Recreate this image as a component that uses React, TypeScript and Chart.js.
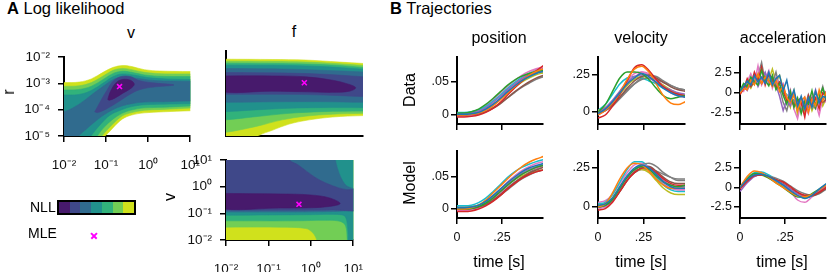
import React, { useEffect, useRef } from 'react';
import { Chart, registerables } from 'chart.js';
Chart.register(...registerables);

const FONT = '"Liberation Sans", Arial, Helvetica, sans-serif';
const LEVEL_COLORS = ['#471a6c', '#3f4889', '#306b8e', '#21918c', '#31b27b', '#72ce55', '#d0e11c'];
const MLE_COLOR = '#ff00ff';
const PALETTE = ['#1f77b4', '#ff7f0e', '#2ca02c', '#d62728', '#9467bd', '#8c564b', '#e377c2', '#7f7f7f', '#bcbd22', '#17becf', '#7f7f7f', '#e377c2'];

// ---------- Panel A: contour polygons (log10 x, log10 y), level 0 = lowest NLL ----------
const X_EXPS = [-2, -1, 0, 1];
const R_EXPS = [-5, -4, -3, -2];
const V_EXPS = [-2, -1, 0, 1];

const VR_L6 = [[-2.2,-5.3],[-2.2,-2.97],[-2.0,-2.97],[-1.64,-2.95],[-1.35,-2.83],[-1.05,-2.56],[-0.83,-2.39],[-0.61,-2.32],[-0.39,-2.36],[-0.09,-2.48],[0.28,-2.53],[1.0,-2.55],[1.2,-2.55],[1.2,-4.04],[1.0,-4.04],[0.36,-4.08],[-0.09,-4.12],[-0.39,-4.2],[-0.61,-4.35],[-0.79,-4.61],[-0.94,-4.87],[-1.01,-4.98],[-1.09,-5.19],[-1.2,-5.3],[-2.2,-5.3]];
const VR_L5 = [[-2.2,-5.3],[-2.2,-3.11],[-2.0,-3.11],[-1.64,-3.09],[-1.35,-2.97],[-1.05,-2.7],[-0.83,-2.5],[-0.61,-2.43],[-0.39,-2.48],[-0.09,-2.58],[0.28,-2.63],[1.0,-2.64],[1.2,-2.64],[1.2,-3.94],[1.0,-3.94],[0.36,-3.99],[-0.09,-4.02],[-0.39,-4.11],[-0.61,-4.23],[-0.79,-4.47],[-0.98,-4.78],[-1.09,-4.98],[-1.16,-5.19],[-1.3,-5.3],[-2.2,-5.3]];
const VR_L4 = [[-2.2,-5.3],[-2.2,-3.25],[-2.0,-3.25],[-1.64,-3.23],[-1.35,-3.11],[-1.05,-2.83],[-0.83,-2.62],[-0.61,-2.54],[-0.39,-2.58],[-0.09,-2.68],[0.28,-2.73],[1.0,-2.74],[1.2,-2.74],[1.2,-3.86],[1.0,-3.86],[0.36,-3.91],[-0.09,-3.93],[-0.39,-4.01],[-0.61,-4.13],[-0.83,-4.35],[-1.05,-4.67],[-1.2,-4.98],[-1.27,-5.19],[-1.4,-5.3],[-2.2,-5.3]];
const VR_L3 = [[-2.2,-5.3],[-2.2,-3.44],[-2.0,-3.44],[-1.64,-3.42],[-1.35,-3.27],[-1.05,-2.97],[-0.83,-2.74],[-0.61,-2.64],[-0.31,-2.69],[-0.01,-2.78],[0.43,-2.83],[1.0,-2.85],[1.2,-2.85],[1.2,-3.77],[1.0,-3.77],[0.36,-3.79],[-0.09,-3.81],[-0.39,-3.88],[-0.61,-3.99],[-0.9,-4.2],[-1.13,-4.55],[-1.35,-4.98],[-1.42,-5.19],[-1.55,-5.3],[-2.2,-5.3]];
const VR_L2 = [[-2.2,-5.3],[-2.2,-4.08],[-2.0,-4.08],[-1.64,-3.79],[-1.35,-3.44],[-1.05,-3.09],[-0.83,-2.85],[-0.61,-2.76],[-0.24,-2.81],[0.13,-2.89],[1.0,-2.92],[1.2,-2.92],[1.2,-3.7],[1.0,-3.67],[0.36,-3.7],[-0.09,-3.71],[-0.39,-3.77],[-0.61,-3.85],[-0.9,-4.05],[-1.2,-4.37],[-1.5,-4.78],[-1.64,-4.98],[-1.72,-5.19],[-1.85,-5.3],[-2.2,-5.3]];
const VR_L1 = [[-1.27,-4.08],[-1.13,-3.67],[-0.98,-3.26],[-0.83,-2.91],[-0.64,-2.74],[-0.42,-2.74],[-0.24,-2.88],[0.06,-2.97],[0.61,-3.06],[0.06,-3.15],[-0.24,-3.26],[-0.46,-3.44],[-0.68,-3.67],[-0.98,-3.96],[-1.2,-4.11],[-1.27,-4.08]];
const VR_L0 = [[-0.96,-3.61],[-0.9,-3.32],[-0.76,-2.97],[-0.61,-2.85],[-0.42,-2.88],[-0.33,-3.03],[-0.42,-3.2],[-0.61,-3.38],[-0.79,-3.56],[-0.92,-3.64],[-0.96,-3.61]];
const VR_MLE = [-0.68, -3.12];

const FR_L6 = [[-2.2,-5.3],[-2.2,-2.29],[-2.0,-2.29],[-0.99,-2.3],[-0.26,-2.32],[0.48,-2.39],[1.0,-2.44],[1.2,-2.46],[1.2,-4.29],[1.0,-4.28],[0.33,-4.33],[-0.18,-4.43],[-0.62,-4.58],[-0.99,-4.8],[-1.28,-4.98],[-1.45,-5.19],[-1.6,-5.3],[-2.2,-5.3]];
const FR_L5 = [[-2.2,-4.87],[-2.2,-2.36],[-2.0,-2.36],[-0.99,-2.37],[-0.26,-2.39],[0.48,-2.45],[1.0,-2.51],[1.2,-2.53],[1.2,-4.2],[1.0,-4.2],[0.33,-4.23],[-0.26,-4.3],[-0.77,-4.43],[-1.36,-4.67],[-2.0,-4.87],[-2.2,-4.87]];
const FR_L4 = [[-2.2,-4.43],[-2.2,-2.43],[-2.0,-2.43],[-0.99,-2.44],[-0.26,-2.46],[0.48,-2.51],[1.0,-2.58],[1.2,-2.6],[1.2,-4.12],[1.0,-4.12],[0.11,-4.14],[-0.62,-4.2],[-1.36,-4.32],[-2.0,-4.43],[-2.2,-4.43]];
const FR_L3 = [[-2.2,-4.14],[-2.2,-2.5],[-2.0,-2.5],[-0.62,-2.51],[0.11,-2.55],[1.0,-2.64],[1.2,-2.66],[1.2,-4.0],[1.0,-4.0],[0.11,-4.0],[-0.62,-4.02],[-1.36,-4.08],[-2.0,-4.14],[-2.2,-4.14]];
const FR_L2 = [[-2.2,-3.81],[-2.2,-2.62],[-2.0,-2.62],[-0.62,-2.64],[0.11,-2.68],[1.0,-2.74],[1.2,-2.76],[1.2,-3.81],[1.0,-3.81],[0.11,-3.79],[-0.62,-3.79],[-2.0,-3.81],[-2.2,-3.81]];
const FR_L1 = [[-2.2,-3.53],[-2.2,-2.76],[-2.0,-2.76],[-0.62,-2.78],[0.26,-2.83],[1.0,-2.91],[1.2,-2.93],[1.2,-3.61],[1.0,-3.61],[0.26,-3.56],[-0.62,-3.53],[-2.0,-3.53],[-2.2,-3.53]];
const FR_L0 = [[-2.2,-2.88],[-0.99,-2.88],[-0.26,-2.91],[0.33,-3.03],[0.7,-3.18],[0.84,-3.3],[0.7,-3.42],[0.33,-3.46],[-0.26,-3.44],[-0.99,-3.42],[-2.2,-3.4],[-2.2,-2.88]];
const FR_MLE = [-0.285, -3.12];

const FV_L6 = [[-2.3,-2.3],[-2.3,1.3],[1.3,1.3],[1.3,-2.3],[-2.3,-2.3]];
const FV_L5 = [[-2.2,-1.52],[-2.2,1.3],[1.2,1.3],[1.2,-2.3],[0.16,-2.3],[0.14,-2.0],[0.05,-1.74],[-0.11,-1.57],[-0.74,-1.52],[-2.0,-1.52],[-2.2,-1.52]];
const FV_L4 = [[-2.2,-1.28],[-2.2,1.3],[1.2,1.3],[1.2,-2.3],[0.88,-2.3],[0.86,-2.0],[0.82,-1.47],[0.69,-1.3],[0.36,-1.26],[-0.37,-1.28],[-2.0,-1.28],[-2.2,-1.28]];
const FV_L3 = [[-2.2,-1.07],[-2.2,1.3],[1.2,1.3],[1.2,-2.3],[0.91,-2.3],[0.88,-1.77],[0.85,-1.3],[0.79,-1.09],[0.58,-1.04],[0.0,-1.05],[-2.0,-1.07],[-2.2,-1.07]];
const FV_L2 = [[-2.2,-0.95],[-2.2,1.3],[0.57,1.3],[0.58,1.0],[0.64,0.63],[0.73,0.28],[0.84,0.04],[1.02,-0.07],[1.2,-0.11],[1.2,-0.89],[0.88,-0.9],[0.51,-0.93],[-0.37,-0.95],[-2.0,-0.95],[-2.2,-0.95]];
const FV_L1 = [[-2.2,-0.88],[-2.2,1.3],[-0.53,1.3],[-0.5,1.0],[-0.3,0.82],[-0.04,0.51],[0.22,0.24],[0.51,0.04],[0.8,-0.1],[1.2,-0.16],[1.2,-0.83],[0.51,-0.87],[-0.37,-0.88],[-2.0,-0.88],[-2.2,-0.88]];
const FV_L0 = [[-2.2,-0.25],[-0.74,-0.27],[0.0,-0.31],[0.44,-0.42],[0.69,-0.63],[0.44,-0.74],[0.0,-0.79],[-0.74,-0.8],[-2.2,-0.79],[-2.2,-0.25]];
const FV_MLE = [-0.28, -0.66];

// ---------- Panel B: trajectories ----------
const T13 = [0, 0.04, 0.08, 0.12, 0.16, 0.2, 0.24, 0.28, 0.32, 0.36, 0.4, 0.44, 0.48];
const T25 = [0, 0.02, 0.04, 0.06, 0.08, 0.1, 0.12, 0.14, 0.16, 0.18, 0.2, 0.22, 0.24, 0.26, 0.28, 0.3, 0.32, 0.34, 0.36, 0.38, 0.4, 0.42, 0.44, 0.46, 0.48];
const T_TICKS = [0, 0.25];
const T_LABELS = ['0', '.25'];
const T_RANGE = [0, 0.478];

const POS_TICKS = [0, 0.05];
const POS_LABELS = ['0', '.05'];
const VEL_TICKS = [0, 0.25];
const VEL_LABELS = ['0', '.25'];
const ACC_TICKS = [-2.5, 0, 2.5];
const ACC_LABELS = ['-2.5', '0', '2.5'];

const POS_DATA_RANGE = [-0.0136, 0.0879];
const POS_MODEL_RANGE = [-0.014, 0.0906];
const VEL_DATA_RANGE = [-0.081, 0.372];
const VEL_MODEL_RANGE = [-0.0705, 0.359];
const ACC_DATA_RANGE = [-3.875, 4.5];
const ACC_MODEL_RANGE = [-3.91, 4.68];

const POS_DATA = [
  [0.001,0.001,0.002,0.004,0.009,0.016,0.025,0.035,0.044,0.052,0.058,0.063,0.066],
  [0.0,0.0,0.001,0.003,0.007,0.014,0.023,0.033,0.043,0.052,0.06,0.066,0.07],
  [0.003,0.003,0.005,0.009,0.016,0.025,0.035,0.045,0.053,0.059,0.063,0.066,0.068],
  [-0.003,-0.003,-0.002,0.0,0.004,0.01,0.019,0.03,0.041,0.051,0.06,0.067,0.075],
  [0.002,0.002,0.003,0.006,0.011,0.019,0.028,0.038,0.047,0.055,0.061,0.065,0.068],
  [0.0,0.0,0.001,0.002,0.005,0.01,0.017,0.026,0.035,0.043,0.05,0.056,0.06],
  [-0.002,-0.002,-0.001,0.002,0.007,0.015,0.025,0.036,0.046,0.055,0.062,0.068,0.072],
  [0.001,0.001,0.002,0.003,0.006,0.011,0.018,0.026,0.034,0.042,0.048,0.054,0.058],
  [0.002,0.002,0.003,0.005,0.009,0.016,0.024,0.033,0.042,0.05,0.056,0.061,0.064],
  [0.004,0.004,0.005,0.008,0.013,0.021,0.03,0.04,0.049,0.057,0.063,0.068,0.071],
  [0.0,0.0,0.001,0.003,0.008,0.015,0.025,0.036,0.046,0.054,0.06,0.064,0.066],
  [0.001,0.001,0.003,0.007,0.014,0.023,0.033,0.043,0.052,0.06,0.066,0.07,0.073],
];
const POS_MODEL = [
  [0.002,0.002,0.003,0.006,0.012,0.021,0.031,0.041,0.05,0.058,0.064,0.068,0.071],
  [0.0,0.0,0.002,0.006,0.014,0.025,0.036,0.047,0.057,0.066,0.073,0.078,0.082],
  [0.0,0.0,0.001,0.004,0.009,0.017,0.027,0.037,0.046,0.054,0.06,0.065,0.068],
  [-0.004,-0.004,-0.003,0.0,0.005,0.012,0.021,0.031,0.04,0.048,0.054,0.058,0.061],
  [0.001,0.001,0.002,0.005,0.011,0.019,0.029,0.039,0.048,0.056,0.062,0.066,0.069],
  [0.0,0.0,0.001,0.003,0.007,0.014,0.022,0.032,0.041,0.049,0.056,0.061,0.065],
  [-0.002,-0.002,-0.001,0.002,0.007,0.015,0.025,0.036,0.046,0.054,0.06,0.064,0.067],
  [0.0,0.0,0.001,0.003,0.007,0.013,0.021,0.03,0.039,0.047,0.053,0.058,0.061],
  [0.002,0.002,0.003,0.006,0.012,0.02,0.029,0.038,0.046,0.052,0.056,0.059,0.061],
  [0.005,0.005,0.006,0.01,0.017,0.027,0.038,0.049,0.058,0.065,0.07,0.074,0.077],
  [0.003,0.003,0.004,0.006,0.01,0.016,0.024,0.033,0.042,0.05,0.057,0.063,0.067],
  [0.001,0.001,0.002,0.005,0.011,0.02,0.031,0.042,0.052,0.06,0.066,0.071,0.074],
];
const VEL_DATA = [
  [-0.01,0.02,0.07,0.13,0.19,0.23,0.26,0.24,0.2,0.16,0.13,0.11,0.1],
  [-0.02,0.01,0.06,0.13,0.22,0.29,0.31,0.27,0.19,0.11,0.06,0.05,0.07],
  [0.0,0.05,0.14,0.23,0.27,0.27,0.26,0.22,0.16,0.11,0.09,0.1,0.11],
  [-0.04,-0.02,0.04,0.12,0.21,0.3,0.32,0.28,0.22,0.17,0.14,0.12,0.11],
  [0.0,0.03,0.08,0.14,0.2,0.24,0.25,0.23,0.2,0.17,0.15,0.13,0.12],
  [-0.01,0.01,0.05,0.1,0.16,0.21,0.24,0.25,0.23,0.2,0.17,0.15,0.14],
  [-0.02,0.01,0.07,0.14,0.21,0.26,0.27,0.25,0.21,0.17,0.13,0.11,0.1],
  [0.0,0.02,0.05,0.1,0.15,0.19,0.22,0.23,0.22,0.2,0.18,0.16,0.15],
  [0.01,0.03,0.07,0.12,0.18,0.22,0.24,0.23,0.21,0.18,0.15,0.12,0.11],
  [0.01,0.05,0.12,0.19,0.23,0.24,0.23,0.21,0.19,0.16,0.14,0.12,0.11],
  [-0.01,0.01,0.04,0.09,0.14,0.19,0.23,0.25,0.24,0.21,0.18,0.16,0.15],
  [0.0,0.02,0.06,0.12,0.18,0.23,0.27,0.26,0.22,0.18,0.14,0.12,0.1],
];
const VEL_MODEL = [
  [0.01,0.02,0.06,0.13,0.2,0.25,0.27,0.25,0.21,0.16,0.13,0.12,0.12],
  [0.0,0.02,0.09,0.18,0.25,0.28,0.27,0.23,0.18,0.14,0.12,0.12,0.12],
  [0.0,0.01,0.05,0.12,0.19,0.24,0.26,0.24,0.2,0.16,0.14,0.13,0.14],
  [-0.02,-0.01,0.03,0.1,0.17,0.22,0.25,0.25,0.22,0.18,0.15,0.14,0.14],
  [0.0,0.01,0.05,0.12,0.19,0.24,0.26,0.25,0.21,0.17,0.14,0.13,0.13],
  [0.0,0.01,0.04,0.1,0.17,0.22,0.25,0.26,0.23,0.19,0.16,0.15,0.15],
  [-0.01,0.0,0.04,0.11,0.18,0.24,0.27,0.26,0.22,0.17,0.13,0.11,0.11],
  [0.0,0.01,0.04,0.1,0.17,0.23,0.27,0.28,0.26,0.22,0.19,0.17,0.17],
  [0.01,0.02,0.06,0.13,0.19,0.23,0.24,0.22,0.17,0.12,0.09,0.08,0.08],
  [0.02,0.03,0.08,0.16,0.24,0.29,0.29,0.25,0.19,0.14,0.11,0.1,0.1],
  [0.01,0.02,0.05,0.11,0.18,0.22,0.24,0.24,0.23,0.21,0.19,0.18,0.18],
  [0.03,0.04,0.08,0.15,0.22,0.27,0.28,0.25,0.2,0.15,0.12,0.11,0.11],
];
const ACC_DATA = [
  [0.2,0.8,1.5,1.0,2.2,1.4,2.0,1.2,2.6,1.0,1.8,2.2,0.3,1.6,-0.8,0.4,-1.6,-0.4,-2.0,-0.6,-1.8,0.2,-1.2,-0.4,-0.6],
  [0.0,0.6,0.4,1.6,1.0,2.4,1.2,2.0,1.5,0.8,1.6,0.2,0.9,-0.6,-1.2,-0.2,-2.2,-1.0,-0.5,-2.4,-0.8,-1.6,0.4,-1.0,0.2],
  [0.3,1.2,0.8,2.0,1.4,1.0,2.8,1.6,0.9,2.2,0.4,1.2,-0.3,-1.4,0.2,-1.8,-0.6,-2.6,-1.0,-1.4,0.3,-1.8,-0.6,0.6,-0.8],
  [-0.2,0.5,1.8,0.9,2.6,1.5,3.2,1.0,2.4,1.8,0.6,1.4,0.8,-1.0,-0.4,-1.6,-0.8,-1.2,-3.0,-0.4,-1.6,-0.6,-2.0,0.0,-0.4],
  [0.1,0.9,0.3,1.4,2.0,0.8,1.8,2.6,1.2,2.0,1.0,-0.4,-2.2,-0.8,-1.6,0.0,-1.4,-2.2,-0.6,-1.8,-1.0,0.4,-1.4,-0.2,0.2],
  [0.0,0.6,1.0,0.8,1.4,1.8,1.2,2.0,1.4,1.6,1.0,0.6,0.0,-0.8,-0.4,-1.6,-1.0,-0.6,-1.8,-1.2,-0.6,-1.4,-0.8,-1.2,-0.8],
  [0.4,0.2,1.4,2.4,1.2,3.4,1.0,1.8,2.8,0.6,1.9,0.8,1.2,-0.8,0.4,-2.0,-3.2,-1.0,-1.6,-2.6,-0.4,-1.2,-2.8,-0.6,-1.2],
  [0.0,1.0,0.6,1.8,1.4,2.2,3.8,1.4,2.2,1.2,2.6,0.6,-1.2,-2.2,-0.4,-1.0,-2.0,-0.8,-1.8,-0.2,-1.4,-2.0,-0.6,0.8,-1.0],
  [0.2,0.7,1.2,0.6,1.6,2.0,1.2,2.4,1.6,3.0,1.4,2.2,0.6,-0.6,-1.8,0.2,-2.8,-1.2,-2.4,-0.8,-2.2,-1.0,0.0,-1.6,-0.6],
  [0.4,1.0,1.3,1.6,1.8,1.5,1.9,1.6,1.7,1.3,1.4,0.8,0.2,-0.2,-0.7,-0.9,-1.1,-1.4,-1.3,-1.5,-1.2,-1.0,-1.1,-0.7,-0.5],
];
const ACC_MODEL = [
  [0.0,1.0,1.6,1.7,1.4,0.9,0.3,-0.4,-1.0,-1.4,-1.0,-0.2,0.5],
  [0.0,1.4,2.1,1.9,1.3,0.6,0.0,-0.6,-1.1,-1.2,-0.9,-0.3,0.3],
  [0.1,1.1,1.8,1.7,1.2,0.6,0.0,-0.7,-1.2,-1.2,-0.8,-0.2,0.4],
  [-0.2,0.8,1.5,1.6,1.3,1.0,0.7,0.1,-0.6,-1.0,-1.0,-0.6,0.0],
  [-0.5,0.6,1.4,1.6,1.3,0.9,0.4,-0.2,-0.8,-1.1,-1.0,-0.5,0.2],
  [-0.1,0.9,1.6,1.7,1.4,1.0,0.5,-0.1,-0.7,-1.1,-1.1,-0.7,-0.1],
  [0.0,1.0,1.7,1.7,1.3,0.8,0.3,-0.5,-1.6,-1.9,-1.2,-0.4,0.2],
  [0.0,0.9,1.5,1.6,1.4,1.2,0.8,0.2,-0.4,-0.8,-1.0,-0.8,-0.2],
  [0.0,1.1,1.7,1.6,1.2,0.7,0.1,-0.6,-1.1,-1.3,-1.1,-0.5,0.0],
  [0.0,1.2,1.9,2.0,1.6,1.0,0.2,-0.6,-1.2,-1.3,-1.1,-0.6,0.1],
];

// ---------- helpers ----------
const SUP: Record<string, string> = { '-': '\u207B', '0': '\u2070', '1': '\u00B9', '2': '\u00B2', '3': '\u00B3', '4': '\u2074', '5': '\u2075' };
const pow10Label = (e: number) => '10' + String(e).split('').map((c) => SUP[c] || c).join('');

type Box = { left: number; top: number; w: number; h: number; ml: number; mt: number; mr: number; mb: number };

const gridOpts = (drawTicks: boolean) => ({
  display: true, drawOnChartArea: false, drawTicks, tickLength: 6, color: '#000', lineWidth: 1.5,
});
const borderOpts = { display: true, color: '#000', width: 2 };

function logAxis(exps: number[], showLabels: boolean, showTicks: boolean, axis: 'x' | 'y', size: number, pad: number) {
  return {
    type: 'logarithmic',
    min: Math.pow(10, exps[0]),
    max: Math.pow(10, exps[exps.length - 1]),
    afterBuildTicks: (s: any) => { s.ticks = exps.map((e) => ({ value: Math.pow(10, e) })); },
    afterFit: (s: any) => { if (axis === 'x') s.height = size; else s.width = size; },
    ticks: {
      display: showLabels, autoSkip: false, maxRotation: 0, padding: pad, color: '#111',
      font: { family: FONT, size: 13.5 },
      callback: (_v: any, i: number) => pow10Label(exps[i]),
    },
    grid: gridOpts(showTicks),
    border: borderOpts,
  };
}

function linAxis(range: number[], ticks: number[], labels: string[], showLabels: boolean, axis: 'x' | 'y', size: number, pad: number) {
  return {
    type: 'linear',
    min: range[0],
    max: range[1],
    afterBuildTicks: (s: any) => { s.ticks = ticks.map((v) => ({ value: v })); },
    afterFit: (s: any) => { if (axis === 'x') s.height = size; else s.width = size; },
    ticks: {
      display: true, autoSkip: false, maxRotation: 0, padding: pad, color: '#111',
      font: { family: FONT, size: 12.5 },
      callback: (_v: any, i: number) => (showLabels ? labels[i] : ''),
    },
    grid: gridOpts(true),
    border: borderOpts,
  };
}

function baseOptions(box: Box, scales: any) {
  return {
    animation: false,
    responsive: false,
    maintainAspectRatio: false,
    devicePixelRatio: 1,
    events: [],
    layout: { padding: { left: 0, top: box.mt, right: box.mr, bottom: 0 } },
    plugins: { legend: { display: false }, tooltip: { enabled: false }, title: { display: false } },
    elements: { line: { capBezierPoints: false }, point: { radius: 0 } },
    scales,
  };
}

function contourConfig(box: Box, levels: number[][][], mle: number[], xExps: number[], yExps: number[], showLabels: boolean) {
  const datasets: any[] = levels.map((poly, k) => ({
    data: poly.map(([a, b]) => ({ x: Math.pow(10, a), y: Math.pow(10, b) })),
    showLine: true,
    fill: 'shape',
    backgroundColor: LEVEL_COLORS[k],
    borderColor: LEVEL_COLORS[k],
    borderWidth: 0.6,
    pointRadius: 0,
    tension: poly.length <= 5 ? 0 : 0.35,
    order: k + 1,
    clip: 0,
  }));
  datasets.push({
    data: [{ x: Math.pow(10, mle[0]), y: Math.pow(10, mle[1]) }],
    showLine: false,
    pointStyle: 'crossRot',
    pointRadius: 3.5,
    borderColor: MLE_COLOR,
    backgroundColor: MLE_COLOR,
    borderWidth: 1.6,
    order: 0,
    clip: false,
  });
  return {
    type: 'line',
    data: { datasets },
    options: baseOptions(box, {
      x: logAxis(xExps, showLabels, showLabels, 'x', box.mb, 15),
      y: logAxis(yExps, showLabels, showLabels, 'y', box.ml, 8),
    }),
  };
}

function trajConfig(box: Box, series: number[][], t: number[], yRange: number[], yTicks: number[], yLabels: string[], showX: boolean, smooth: boolean) {
  const datasets = series.map((s, i) => ({
    data: s.map((v, j) => ({ x: t[j], y: v })),
    borderColor: PALETTE[i % PALETTE.length],
    borderWidth: 1.5,
    pointRadius: 0,
    fill: false,
    tension: smooth ? 0.4 : 0,
    cubicInterpolationMode: smooth ? 'monotone' : 'default',
    clip: 0,
  }));
  return {
    type: 'line',
    data: { datasets },
    options: baseOptions(box, {
      x: linAxis(T_RANGE, T_TICKS, T_LABELS, showX, 'x', box.mb, 6),
      y: linAxis(yRange, yTicks, yLabels, true, 'y', box.ml, 2),
    }),
  };
}

function ChartCanvas({ box, make }: { box: Box; make: () => any }) {
  const ref = useRef<HTMLCanvasElement | null>(null);
  useEffect(() => {
    if (!ref.current) return;
    const chart = new Chart(ref.current, make());
    return () => chart.destroy();
  }, []);
  const W = box.w + box.ml + box.mr;
  const H = box.h + box.mt + box.mb;
  return (
    <canvas
      ref={ref}
      width={W}
      height={H}
      style={{ position: 'absolute', left: box.left - box.ml, top: box.top - box.mt, width: W, height: H }}
    />
  );
}

function Txt({ x, y, children, size = 16, rot = 0, anchor = 'center' }: { x: number; y: number; children: any; size?: number; rot?: number; anchor?: string }) {
  const tx = anchor === 'left' ? '0' : '-50%';
  return (
    <div
      style={{
        position: 'absolute', left: x, top: y, transform: `translate(${tx},-50%) rotate(${rot}deg)`,
        fontFamily: FONT, fontSize: size, lineHeight: 1, whiteSpace: 'nowrap', color: '#000',
      }}
    >
      {children}
    </div>
  );
}

const BOX_VR: Box = { left: 64, top: 51, w: 135, h: 85, ml: 60, mt: 10, mr: 16, mb: 36 };
const BOX_FR: Box = { left: 226, top: 51, w: 137, h: 85, ml: 20, mt: 10, mr: 16, mb: 10 };
const BOX_FV: Box = { left: 226, top: 154, w: 136, h: 86, ml: 60, mt: 10, mr: 16, mb: 36 };

const COL_X = [457, 598, 740];
const COL_W = [86, 87, 86];
const ROW_TOP = [57, 151];
const ROW_H = 67;

const bBox = (col: number, row: number): Box => ({
  left: COL_X[col], top: ROW_TOP[row], w: COL_W[col], h: ROW_H, ml: 45, mt: 10, mr: 10, mb: row === 0 ? 10 : 34,
});

export default function App() {
  return (
    <div style={{ position: 'absolute', left: 0, top: 0, width: 830, height: 272, background: '#fff', overflow: 'hidden' }}>
      <ChartCanvas box={BOX_VR} make={() => contourConfig(BOX_VR, [VR_L0, VR_L1, VR_L2, VR_L3, VR_L4, VR_L5, VR_L6], VR_MLE, X_EXPS, R_EXPS, true)} />
      <ChartCanvas box={BOX_FR} make={() => contourConfig(BOX_FR, [FR_L0, FR_L1, FR_L2, FR_L3, FR_L4, FR_L5, FR_L6], FR_MLE, X_EXPS, R_EXPS, false)} />
      <ChartCanvas box={BOX_FV} make={() => contourConfig(BOX_FV, [FV_L0, FV_L1, FV_L2, FV_L3, FV_L4, FV_L5, FV_L6], FV_MLE, X_EXPS, V_EXPS, true)} />

      <ChartCanvas box={bBox(0, 0)} make={() => trajConfig(bBox(0, 0), POS_DATA, T13, POS_DATA_RANGE, POS_TICKS, POS_LABELS, false, true)} />
      <ChartCanvas box={bBox(1, 0)} make={() => trajConfig(bBox(1, 0), VEL_DATA, T13, VEL_DATA_RANGE, VEL_TICKS, VEL_LABELS, false, true)} />
      <ChartCanvas box={bBox(2, 0)} make={() => trajConfig(bBox(2, 0), ACC_DATA, T25, ACC_DATA_RANGE, ACC_TICKS, ACC_LABELS, false, false)} />
      <ChartCanvas box={bBox(0, 1)} make={() => trajConfig(bBox(0, 1), POS_MODEL, T13, POS_MODEL_RANGE, POS_TICKS, POS_LABELS, true, true)} />
      <ChartCanvas box={bBox(1, 1)} make={() => trajConfig(bBox(1, 1), VEL_MODEL, T13, VEL_MODEL_RANGE, VEL_TICKS, VEL_LABELS, true, true)} />
      <ChartCanvas box={bBox(2, 1)} make={() => trajConfig(bBox(2, 1), ACC_MODEL, T13, ACC_MODEL_RANGE, ACC_TICKS, ACC_LABELS, true, true)} />

      <Txt x={7} y={8} size={16.5} anchor="left"><b>A</b> Log likelihood</Txt>
      <Txt x={390} y={8} size={16.5} anchor="left"><b>B</b> Trajectories</Txt>
      <Txt x={131} y={33}>v</Txt>
      <Txt x={294} y={32}>f</Txt>
      <Txt x={9} y={92} rot={-90}>r</Txt>
      <Txt x={170} y={197} rot={-90}>v</Txt>
      <Txt x={499} y={38}>position</Txt>
      <Txt x={641} y={38}>velocity</Txt>
      <Txt x={783} y={38}>acceleration</Txt>
      <Txt x={410} y={90} rot={-90}>Data</Txt>
      <Txt x={410} y={183} rot={-90}>Model</Txt>
      <Txt x={499} y={262}>time [s]</Txt>
      <Txt x={641} y={262}>time [s]</Txt>
      <Txt x={782} y={262}>time [s]</Txt>

      <Txt x={30} y={207} size={14} anchor="left">NLL</Txt>
      <div style={{ position: 'absolute', left: 57, top: 200, width: 79, height: 15, border: '2px solid #000', boxSizing: 'border-box', display: 'flex' }}>
        {LEVEL_COLORS.map((c) => (<div key={c} style={{ flex: 1, background: c }} />))}
      </div>
      <Txt x={28} y={233} size={14} anchor="left">MLE</Txt>
      <div style={{ position: 'absolute', left: 90, top: 235, width: 8, height: 1.6, background: MLE_COLOR, transform: 'rotate(45deg)' }} />
      <div style={{ position: 'absolute', left: 90, top: 235, width: 8, height: 1.6, background: MLE_COLOR, transform: 'rotate(-45deg)' }} />
    </div>
  );
}
